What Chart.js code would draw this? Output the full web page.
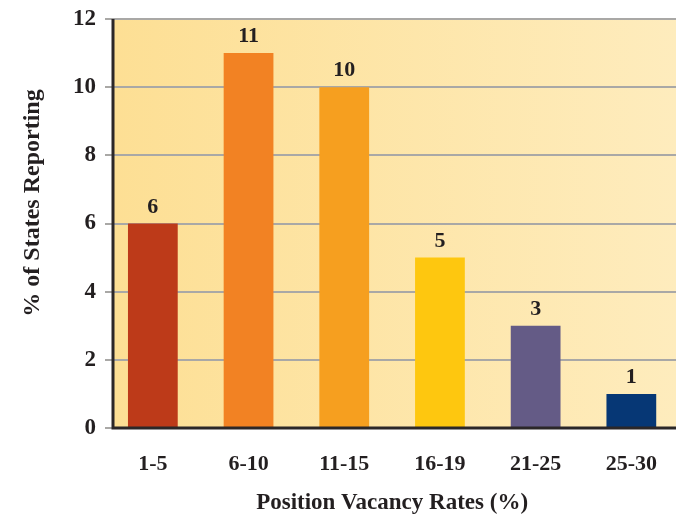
<!DOCTYPE html>
<html>
<head>
<meta charset="utf-8">
<script src="https://cdn.jsdelivr.net/npm/chart.js@4.4.1/dist/chart.umd.min.js"></script>
<style>
  html, body { margin: 0; padding: 0; background: #ffffff; overflow: hidden; }
  #wrap { position: relative; width: 680px; height: 521px; }
</style>
</head>
<body>
<div id="wrap"><canvas id="c" width="680" height="521"></canvas></div>
<script>
// Vacancy-rate bands and the number of states reporting each
const categories = ['1-5', '6-10', '11-15', '16-19', '21-25', '25-30'];
const statesReporting = [6, 11, 10, 5, 3, 1];
const barColors = ['#BD3A19', '#F28223', '#F69F1F', '#FEC70F', '#645B86', '#063775'];
const yTicks = [0, 2, 4, 6, 8, 10, 12];
const yTitle = '% of States Reporting';
const xTitle = 'Position Vacancy Rates (%)';

const SERIF = '"Liberation Serif", "DejaVu Serif", serif';
const INK = '#231F20';
const AXIS_INSET = 8; // y axis line sits a little right of the plot's left edge

// Warm gradient panel, dark axes, value labels and the vertical title
const panelPlugin = {
  id: 'panel',
  beforeDraw(chart) {
    const { ctx, chartArea: a } = chart;
    const left = a.left + AXIS_INSET;
    const g = ctx.createLinearGradient(left, 0, 676, 0);
    g.addColorStop(0, '#FDDF94');
    g.addColorStop(1, '#FEECBD');
    ctx.save();
    ctx.fillStyle = g;
    ctx.fillRect(left, a.top, a.right - left, a.bottom - a.top);
    ctx.restore();
  },
  afterDatasetsDraw(chart) {
    const { ctx, chartArea: a } = chart;
    const left = a.left + AXIS_INSET;
    ctx.save();
    ctx.strokeStyle = '#2B2728';
    ctx.lineWidth = 3;
    ctx.beginPath();
    ctx.moveTo(left, a.top);
    ctx.lineTo(left, a.bottom + 1.5);
    ctx.moveTo(left - 1.5, a.bottom);
    ctx.lineTo(a.right, a.bottom);
    ctx.stroke();

    const meta = chart.getDatasetMeta(0);
    ctx.fillStyle = INK;
    ctx.font = 'bold 22px ' + SERIF;
    ctx.textAlign = 'center';
    ctx.textBaseline = 'alphabetic';
    meta.data.forEach((bar, i) => {
      ctx.fillText(String(statesReporting[i]), bar.x, bar.y - 11);
    });

    // vertical axis title
    ctx.translate(33, 203);
    ctx.rotate(-Math.PI / 2);
    ctx.font = 'bold 24px ' + SERIF;
    ctx.textBaseline = 'middle';
    ctx.fillText(yTitle, 0, 0);
    ctx.restore();
  }
};

new Chart(document.getElementById('c'), {
  type: 'bar',
  data: {
    labels: categories,
    datasets: [{
      data: statesReporting,
      backgroundColor: barColors,
      borderWidth: 0,
      barPercentage: 0.52,
      categoryPercentage: 1.0
    }]
  },
  options: {
    responsive: false,
    animation: false,
    devicePixelRatio: 1,
    layout: { padding: { top: 19, right: 0, bottom: 0, left: 0 } },
    plugins: {
      legend: { display: false },
      tooltip: { enabled: false }
    },
    scales: {
      x: {
        offset: true,
        afterFit(scale) { scale.height = 93; },
        grid: { display: false, drawTicks: false },
        border: { display: false },
        ticks: {
          color: INK,
          font: { family: SERIF, size: 22, weight: 'bold' },
          padding: 23
        },
        title: {
          display: true,
          text: xTitle,
          color: INK,
          font: { family: SERIF, size: 23, weight: 'bold' },
          padding: { top: 0, bottom: 4 }
        }
      },
      y: {
        min: 0,
        max: 12,
        afterBuildTicks(scale) {
          scale.ticks = yTicks.map(v => ({ value: v }));
        },
        afterFit(scale) {
          scale.width = 105;
          scale.paddingTop = 0;
        },
        grid: {
          color: '#A9A8A6',
          lineWidth: 2,
          drawTicks: false
        },
        border: { display: false },
        ticks: {
          color: INK,
          font: { family: SERIF, size: 23, weight: 'bold', lineHeight: 1 },
          padding: 9
        }
      }
    }
  },
  plugins: [panelPlugin]
});
</script>
</body>
</html>
